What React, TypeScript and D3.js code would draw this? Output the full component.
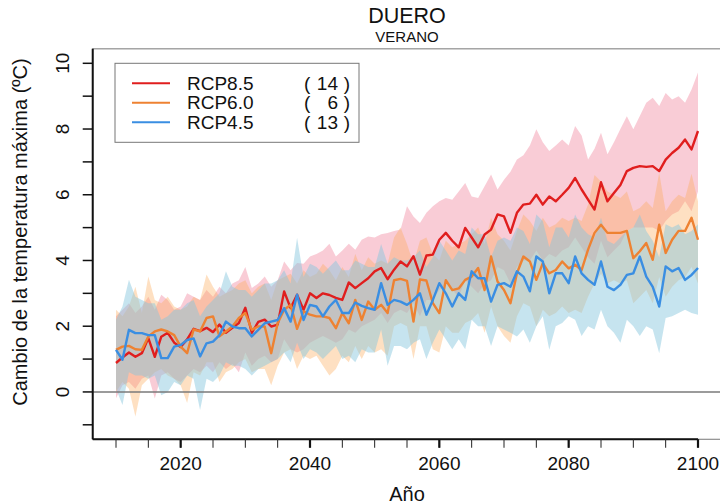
import React from "react";
import * as d3 from "d3";

const years: number[] = d3.range(2010, 2101);

const rcp85Mean = [
  0.88, 1.05, 1.2, 1.07, 1.18, 1.64, 1.07, 1.68, 1.8, 1.5,
  1.37, 1.6, 1.92, 1.85, 1.95, 1.82, 2.05, 1.8, 1.95, 2.1,
  2.56, 1.8, 2.13, 2.2, 1.99, 2.05, 3.06, 2.55, 2.96, 2.5,
  3.0, 2.86, 3.0, 2.95, 2.86, 2.8, 3.33, 3.16, 3.31, 3.46,
  3.67, 3.77, 3.43, 3.72, 3.97, 3.82, 4.13, 3.57, 4.15, 4.18,
  4.63, 4.84, 4.6, 4.4, 4.99, 4.7, 4.4, 4.79, 4.94, 5.4,
  5.34, 4.84, 5.45, 5.7, 5.73, 6.0, 5.7, 5.95, 5.8, 6.0,
  6.21, 6.51, 6.16, 5.85, 5.55, 6.38, 5.8, 6.05, 6.3, 6.72,
  6.82, 6.87, 6.85, 6.87, 6.72, 7.07, 7.27, 7.43, 7.68, 7.38,
  7.94,
];
const rcp85Upper = [
  2.3, 2.5, 2.7, 2.4, 2.6, 2.9, 2.5, 2.96, 2.8, 2.5,
  2.6, 3.0, 2.9, 2.8, 3.1, 2.9, 3.2, 3.0, 3.3, 3.4,
  3.8, 3.16, 3.3, 3.51, 3.2, 3.4, 3.97, 3.7, 3.92, 3.9,
  4.12, 4.2, 4.3, 4.51, 4.12, 4.3, 4.51, 4.33, 4.63, 4.73,
  4.7, 4.8, 4.84, 4.9, 4.94, 5.65, 5.34, 5.14, 5.45, 5.65,
  5.8, 5.9, 5.85, 6.1, 6.36, 5.95, 5.9, 6.26, 6.62, 6.16,
  6.46, 6.7, 7.07, 7.2, 7.5, 7.99, 7.6, 7.33, 7.5, 7.68,
  7.5, 8.09, 7.8, 7.07, 7.4, 7.89, 7.23, 7.6, 8.0, 8.39,
  7.99, 8.4, 8.8, 8.95, 8.7, 9.1, 8.9, 9.0, 8.8, 9.2,
  9.72,
];
const rcp85Lower = [
  -0.19, 0.2, 0.3, 0.1, 0.4, 0.5, -0.2, 0.5, 0.6, 0.4,
  0.3, 0.5, 0.7, 0.6, 0.8, 0.6, 0.9, 0.7, 0.85, 0.6,
  1.2, 0.8, 1.0, 1.1, 0.9, 1.0, 1.6, 1.3, 1.2, 1.3,
  1.5, 1.6, 1.7, 1.6, 1.5, 1.6, 1.9, 1.8, 2.0, 2.1,
  2.2, 2.4, 2.1, 2.4, 2.5, 2.4, 2.7, 2.3, 2.8, 2.8,
  3.1, 3.3, 3.1, 2.9, 3.4, 3.2, 3.0, 3.3, 3.4, 3.8,
  3.7, 3.3, 3.8, 4.0, 4.0, 4.3, 4.0, 4.2, 4.1, 4.3,
  4.4, 4.7, 4.4, 4.1, 3.9, 4.6, 4.1, 4.3, 4.5, 4.9,
  5.0, 5.0, 5.0, 5.0, 4.9, 5.2, 5.4, 5.5, 5.8, 5.5,
  6.1,
];

const rcp60Mean = [
  1.28, 1.38, 1.4, 1.3, 1.28, 1.69, 1.84, 1.9, 1.84, 1.73,
  1.38, 1.18, 1.9, 1.84, 2.25, 2.3, 1.69, 1.84, 1.99, 2.25,
  2.4, 1.89, 1.99, 1.99, 1.18, 2.09, 2.5, 2.65, 1.92, 2.45,
  2.35, 2.3, 2.3, 2.25, 1.94, 2.4, 2.09, 2.8, 2.19, 2.75,
  2.5, 2.65, 2.4, 3.4, 3.44, 3.38, 2.14, 3.42, 3.39, 2.7,
  2.4, 3.4, 3.1, 3.15, 3.41, 3.51, 3.77, 3.1, 4.12, 3.36,
  3.1, 2.7, 3.61, 4.12, 3.97, 3.41, 3.92, 3.61, 3.71, 3.97,
  3.76, 3.87, 3.71, 4.33, 4.84, 5.09, 4.84, 4.84, 4.84, 4.9,
  4.07, 4.28, 4.53, 4.02, 5.09, 4.23, 4.63, 4.9, 4.9, 5.3,
  4.63,
];
const rcp60Upper = [
  2.5, 2.3, 2.6, 3.2, 2.4, 3.51, 2.8, 2.7, 2.9, 2.6,
  2.5, 2.6, 2.9, 2.8, 3.57, 3.2, 2.9, 3.0, 3.1, 3.3,
  3.4, 3.0, 3.2, 3.3, 2.8, 3.4, 3.5, 3.6, 3.3, 3.7,
  3.5, 3.6, 3.9, 3.7, 3.4, 3.8, 3.5, 4.2, 3.7, 4.1,
  3.9, 4.0, 3.9, 4.7, 5.0, 4.5, 3.9, 4.6, 4.7, 4.2,
  4.0, 4.6, 4.4, 4.5, 4.6, 4.8, 5.0, 4.5, 5.3, 4.8,
  4.6, 4.3, 4.9, 5.4, 5.2, 4.9, 5.3, 5.0, 5.1, 5.3,
  5.2, 5.3, 5.2, 5.7, 6.6, 6.4, 6.1, 6.0, 5.9, 6.1,
  5.5, 5.6, 5.8, 5.6, 6.67, 5.5, 5.8, 6.0, 5.9, 6.64,
  5.8,
];
const rcp60Lower = [
  0.0, 0.3, 0.1, -0.75, 0.2, 0.4, 0.6, 0.7, 0.5, 0.4,
  0.2, -0.34, 0.6, 0.5, 0.9, 0.9, 0.3, 0.6, 0.7, 0.9,
  1.0, 0.6, 0.7, 0.7, 0.2, 0.8, 1.2, 1.3, 0.7, 1.1,
  1.0, 1.1, 0.8, 0.5, 0.7, 1.1, 0.9, 1.4, 1.0, 1.4,
  1.2, 1.3, 1.1, 2.0, 2.1, 2.0, 1.0, 2.0, 2.0, 1.3,
  1.2, 2.0, 1.8, 1.8, 2.1, 2.2, 2.4, 1.8, 2.6, 2.0,
  1.7, 1.5, 2.3, 2.7, 2.6, 2.0, 2.5, 2.3, 2.4, 2.6,
  2.4, 2.5, 2.4, 2.9, 3.3, 3.6, 3.3, 3.4, 3.3, 3.4,
  2.7, 2.9, 3.1, 2.7, 3.5, 2.9, 3.2, 3.4, 3.5, 3.8,
  3.3,
];

const rcp45Mean = [
  1.28, 0.98, 1.89, 1.79, 1.79, 1.73, 1.73, 1.03, 1.03, 1.38,
  1.43, 1.58, 1.63, 1.08, 1.48, 1.53, 1.73, 2.14, 1.99, 1.94,
  1.94, 1.69, 1.89, 2.09, 2.14, 2.19, 2.55, 2.14, 2.96, 2.19,
  2.65, 2.6, 2.3, 2.6, 2.8, 2.4, 2.4, 2.72, 2.62, 2.55,
  2.5, 3.31, 2.65, 2.8, 2.75, 2.65, 2.8, 3.0, 2.35, 2.8,
  3.31, 3.0, 2.6, 3.0, 2.8, 3.67, 3.46, 3.46, 2.75, 3.26,
  3.31, 3.2, 3.67, 3.51, 3.06, 4.12, 3.97, 3.0, 3.61, 3.61,
  3.31, 4.12, 3.61, 3.41, 3.26, 3.97, 3.2, 3.1, 3.26, 3.56,
  3.61, 4.12, 3.51, 3.2, 2.6, 3.82, 3.67, 3.77, 3.41, 3.56,
  3.77,
];
const rcp45Upper = [
  2.2, 2.6, 3.41, 2.9, 2.8, 2.7, 2.7, 2.2, 2.3, 2.5,
  2.5, 2.7, 2.8, 2.3, 2.6, 2.8, 3.0, 3.67, 3.2, 3.1,
  3.1, 2.9, 3.1, 3.3, 3.3, 3.4, 3.7, 3.3, 4.69, 3.5,
  3.9, 3.8, 3.6, 3.8, 4.0, 3.7, 3.7, 4.0, 3.9, 3.8,
  3.8, 4.5, 3.9, 4.1, 4.0, 4.0, 4.1, 4.3, 3.8, 4.1,
  4.6, 4.3, 4.0, 4.3, 4.2, 5.0, 4.8, 4.8, 4.1, 4.6,
  4.7, 4.6, 5.0, 4.9, 4.5, 5.4, 5.2, 4.4, 5.0, 5.0,
  4.7, 5.4, 5.0, 4.8, 4.7, 5.3, 4.6, 4.5, 4.7, 4.9,
  5.0, 5.4, 4.9, 4.6, 4.1, 5.1, 5.0, 5.1, 4.8, 4.9,
  5.1,
];
const rcp45Lower = [
  0.1, -0.4, 0.6, 0.5, 0.5, 0.4, 0.5, -0.1, 0.0, 0.3,
  0.2, 0.5, 0.4, -0.55, 0.4, 0.3, 0.5, 0.9, 0.8, 0.8,
  0.7, 0.5, 0.7, 0.8, 0.9, 1.0, 1.2, 0.9, 1.5, 1.0,
  1.3, 1.2, 1.0, 1.2, 1.4, 1.0, 1.1, 0.9, 1.3, 1.2,
  1.2, 1.9, 0.8, 1.4, 1.4, 1.3, 1.5, 1.6, 1.0, 1.5,
  1.9, 1.6, 1.3, 1.6, 1.3, 2.2, 2.0, 2.0, 1.4, 2.0,
  1.9, 1.8, 1.69, 1.9, 1.5, 2.0, 2.3, 1.28, 2.0, 2.1,
  2.3, 2.2, 1.7, 2.0, 1.9, 2.5, 2.0, 1.8, 1.5, 2.2,
  2.0, 1.7, 2.0, 1.9, 1.18, 2.25, 2.3, 2.4, 2.5, 2.4,
  2.35,
];

const scenarioNames = ["RCP8.5", "RCP6.0", "RCP4.5"];
const modelCounts = [14, 6, 13];

const xLabelTicks = [2020, 2040, 2060, 2080, 2100];
const xMinorTicks: number[] = d3.range(2010, 2101, 5);
const yTicks: number[] = d3.range(-1, 11, 1);
const yLabelTicks = [0, 2, 4, 6, 8, 10];

const FONT = "'Liberation Sans', Arial, Helvetica, sans-serif";

export default function App() {
  const x = d3.scaleLinear().domain([2010, 2100]).range([116, 698]);
  const y = d3.scaleLinear().domain([-1, 10]).range([424.8, 63.3]);
  const x0 = x(2006.4);
  const x1 = x(2103.6);
  const yTop = y(10.44);
  const yBot = y(-1.44);

  const series = [
    { mean: rcp85Mean, lower: rcp85Lower, upper: rcp85Upper, line: "#E01E1E", fill: "#F07A94", op: 0.38 },
    { mean: rcp60Mean, lower: rcp60Lower, upper: rcp60Upper, line: "#EE8232", fill: "#FBAA55", op: 0.36 },
    { mean: rcp45Mean, lower: rcp45Lower, upper: rcp45Upper, line: "#3A8EE2", fill: "#86C6DC", op: 0.47 },
  ];

  const area = (lo: number[], hi: number[]) =>
    d3
      .area<number>()
      .x((d) => x(d))
      .y0((_, i) => y(lo[i]))
      .y1((_, i) => y(hi[i]))(years) as string;

  const line = (m: number[]) =>
    d3
      .line<number>()
      .x((d) => x(d))
      .y((_, i) => y(m[i]))(years) as string;

  const legX = x(2010) - 1;
  const legY = y(10);
  const legW = 244;
  const legH = 79;
  const rowY = [legY + 20, legY + 39.5, legY + 59];

  return (
    <svg
      width={720}
      height={504}
      style={{ position: "absolute", left: 0, top: 0, background: "#fff" }}
      fontFamily={FONT}
    >
      <rect x={0} y={0} width={720} height={504} fill="#fff" />
      <text x={407} y={23} fontSize={21.5} textAnchor="middle" fill="#111">
        DUERO
      </text>
      <text x={407} y={42} fontSize={15} textAnchor="middle" fill="#111">
        VERANO
      </text>

      {series.map((s, i) => (
        <path key={"a" + i} d={area(s.lower, s.upper)} fill={s.fill} fillOpacity={s.op} stroke="none" />
      ))}

      <line x1={x0} x2={x1} y1={y(0)} y2={y(0)} stroke="#7a7a7a" strokeWidth={1.5} />

      {series.map((s, i) => (
        <path key={"l" + i} d={line(s.mean)} fill="none" stroke={s.line} strokeWidth={2.4} strokeLinejoin="round" />
      ))}

      {/* box */}
      <rect x={x0} y={yTop} width={x1 - x0} height={yBot - yTop} fill="none" stroke="#777" strokeWidth={1} />

      {/* left axis */}
      <line x1={x0} x2={x0} y1={yTop} y2={yBot} stroke="#111" strokeWidth={2} />
      {yTicks.map((t) => (
        <line key={"yt" + t} x1={x0 - 10} x2={x0} y1={y(t)} y2={y(t)} stroke="#111" strokeWidth={1.5} />
      ))}
      {yLabelTicks.map((t) => (
        <text
          key={"yl" + t}
          transform={`translate(69,${y(t)}) rotate(-90)`}
          fontSize={19}
          textAnchor="middle"
          fill="#111"
        >
          {t}
        </text>
      ))}
      <text transform={`translate(27,232) rotate(-90)`} fontSize={20} textAnchor="middle" fill="#111">
        Cambio de la temperatura máxima (ºC)
      </text>

      {/* bottom axis */}
      <line x1={x0} x2={x(2100)} y1={yBot} y2={yBot} stroke="#111" strokeWidth={2} />
      {xMinorTicks.map((t) => (
        <line key={"xm" + t} x1={x(t)} x2={x(t)} y1={yBot} y2={yBot + 8.5} stroke="#222" strokeWidth={1} />
      ))}
      {xLabelTicks.map((t) => (
        <line key={"xt" + t} x1={x(t)} x2={x(t)} y1={yBot} y2={yBot + 8.5} stroke="#111" strokeWidth={2.2} />
      ))}
      {xLabelTicks.map((t) => (
        <text key={"xl" + t} x={x(t)} y={470} fontSize={19} textAnchor="middle" fill="#111">
          {t}
        </text>
      ))}
      <text x={407} y={501} fontSize={20} textAnchor="middle" fill="#111">
        Año
      </text>

      {/* legend */}
      <rect x={legX} y={legY} width={legW} height={legH} fill="#fff" stroke="#777" strokeWidth={1} />
      {series.map((s, i) => (
        <g key={"lg" + i}>
          <line x1={legX + 17} x2={legX + 55} y1={rowY[i]} y2={rowY[i]} stroke={s.line} strokeWidth={2} />
          <text x={legX + 72} y={rowY[i] + 6.5} fontSize={19} fill="#111">
            {scenarioNames[i]}
          </text>
          <text x={legX + 189} y={rowY[i] + 6.5} fontSize={19} fill="#111">
            (
          </text>
          <text x={legX + 223} y={rowY[i] + 6.5} fontSize={19} textAnchor="end" fill="#111">
            {modelCounts[i]}
          </text>
          <text x={legX + 235} y={rowY[i] + 6.5} fontSize={19} textAnchor="end" fill="#111">
            )
          </text>
        </g>
      ))}
    </svg>
  );
}
